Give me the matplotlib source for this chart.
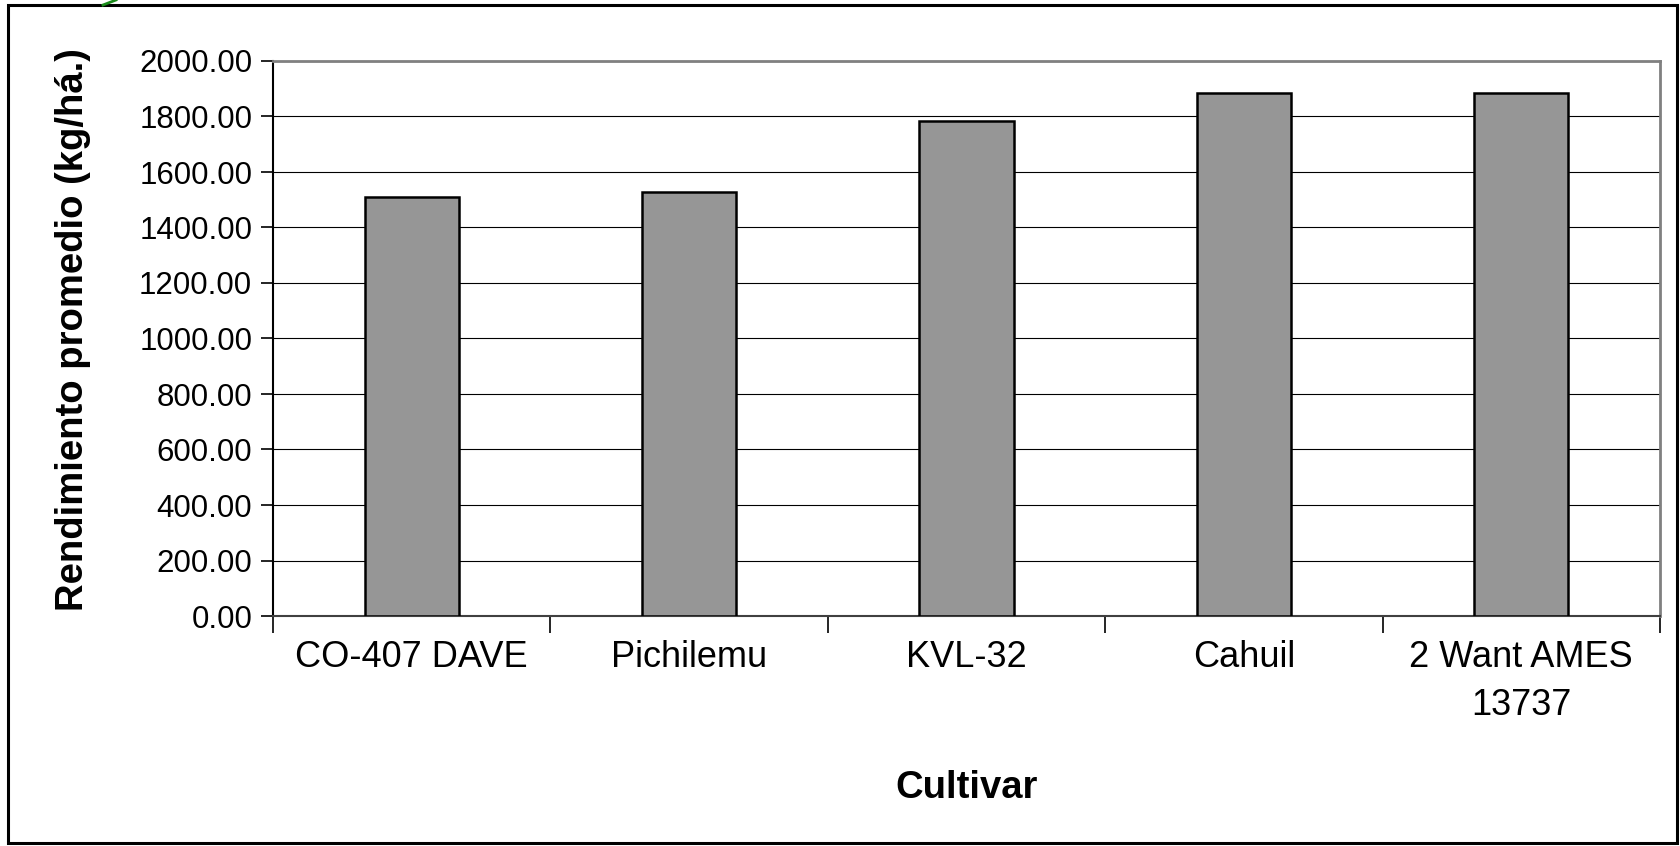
import matplotlib
matplotlib.use("Agg")
import matplotlib.pyplot as plt
from matplotlib.patches import Rectangle
from matplotlib.lines import Line2D
from matplotlib.ticker import MultipleLocator, FormatStrFormatter, FixedLocator

cultivars = ["CO-407 DAVE", "Pichilemu", "KVL-32", "Cahuil", "2 Want AMES\n13737"]
rendimiento = [1510, 1528, 1784, 1884, 1884]

plt.rcParams["font.family"] = ["Liberation Sans", "DejaVu Sans"]

W, H = 1680, 846
fig = plt.figure(figsize=(W / 100, H / 100), dpi=100)
fig.patch.set_facecolor("white")

left, right, top, bottom = 273, 1660, 61, 616
ax = fig.add_axes([left / W, 1 - bottom / H, (right - left) / W, (bottom - top) / H])

x = list(range(len(cultivars)))
ax.bar(x, rendimiento, width=0.34, color="#969696", edgecolor="black", linewidth=1.8, zorder=3)

ax.set_xlim(-0.5, len(cultivars) - 0.5)
ax.set_ylim(0, 2000)
ax.yaxis.set_major_locator(MultipleLocator(200))
ax.yaxis.set_major_formatter(FormatStrFormatter("%.2f"))
ax.grid(axis="y", color="black", linewidth=0.8, zorder=1)

# category labels centred on bars, tick marks between categories
ax.set_xticks(x)
ax.set_xticklabels(cultivars, fontsize=26, linespacing=1.5)
ax.tick_params(axis="x", which="major", length=0, pad=17)
ax.xaxis.set_minor_locator(FixedLocator([i - 0.5 for i in range(len(cultivars) + 1)]))
ax.tick_params(axis="x", which="minor", length=12, width=1.2, color="black")
ax.tick_params(axis="y", labelsize=22.5, length=9, width=1.2, pad=6, color="black")

for side in ["top", "right"]:
    ax.spines[side].set_color("#808080")
    ax.spines[side].set_linewidth(2)
ax.spines["left"].set_color("black")
ax.spines["left"].set_linewidth(1.5)
ax.spines["bottom"].set_color("#404040")
ax.spines["bottom"].set_linewidth(1.5)

ax.set_xlabel("Cultivar", fontsize=27.5, fontweight="bold", labelpad=34)
ax.set_ylabel("Rendimiento promedio (kg/há.)", fontsize=27.5, fontweight="bold")
ax.yaxis.set_label_coords(-0.131, 0.516)

# outer frame and the small green stroke at the top edge
fig.patches.append(Rectangle((8 / W, 1 - 843 / H), (1677 - 8) / W, (843 - 5) / H,
                             transform=fig.transFigure, fill=False,
                             edgecolor="black", linewidth=2.2))
fig.lines.append(Line2D([103 / W, 116 / W], [1 - 5 / H, 1 - 0 / H],
                        transform=fig.transFigure, color="#1a8a1a", linewidth=2))

fig.savefig("out.png", dpi=100, facecolor="white")
